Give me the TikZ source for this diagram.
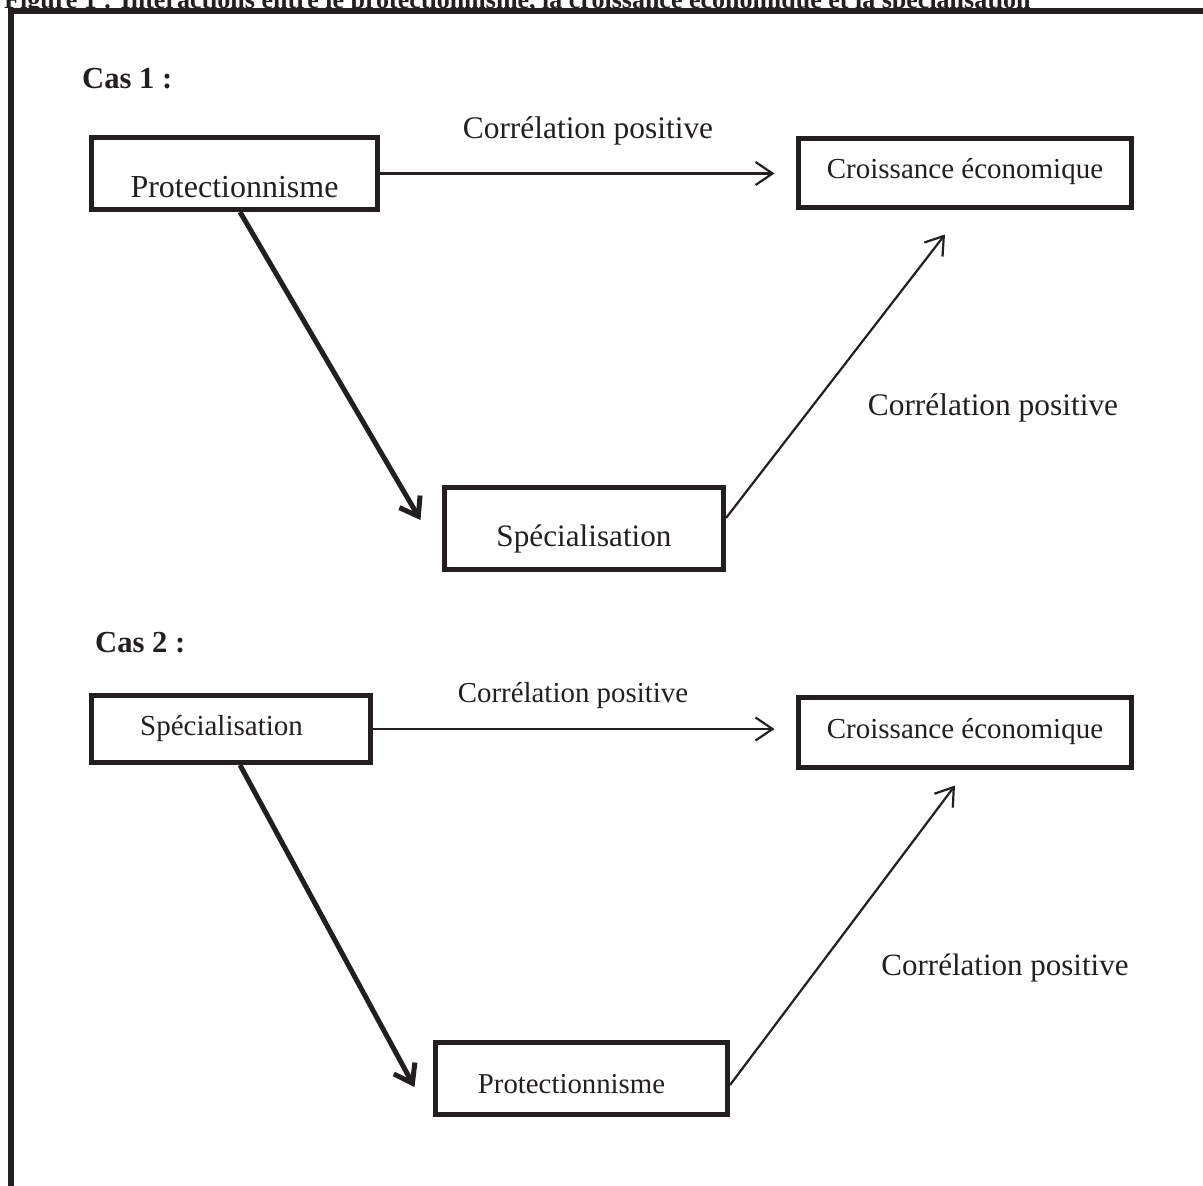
\documentclass[tikz,border=0pt]{standalone}
\usepackage{fontspec}
\setmainfont{Liberation Serif}
\usetikzlibrary{arrows.meta,calc}
\definecolor{ink}{HTML}{231F20}
\newcommand\myfs[1]{\fontsize{#1}{#1}\selectfont}
\begin{document}
\begin{tikzpicture}[x=1pt,y=-1pt,
  box/.style={draw=ink, line width=5pt, rectangle, inner sep=0pt, text=ink},
  lbl/.style={text=ink, inner sep=0pt, anchor=base},
  thinarrow/.style={draw=ink, line width=2.2pt, -{Straight Barb[length=17pt,width=23pt]}},
  bigarrow/.style={draw=ink, line width=5pt, -{Straight Barb[length=17pt,width=24pt]}},
]
\useasboundingbox (0,0) rectangle (1203,1186);
\clip (0,0) rectangle (1203,1186);

% title (cut off at the top, as in the reference)
\node[lbl, anchor=base west, font=\bfseries\myfs{26}] (title) at (4,8)
  {Figure 1 : Interactions entre le protectionnisme, la croissance économique et la spécialisation};
% frame
\draw[ink, line width=5.5pt] (11,1220) -- (11,11) -- (1230,11);

% ---- Cas 1
\node[lbl, anchor=base west, font=\bfseries\myfs{30.6}] (cas1) at (82,88) {Cas 1 :};
\node[box, minimum width=286pt, minimum height=72pt, text height=47pt, text depth=0pt, font=\myfs{32}]
  (A1) at (234.5,173.5) {Protectionnisme};
\node[box, minimum width=333pt, minimum height=69pt, text height=20pt, text depth=10pt, font=\myfs{29}]
  (B1) at (965,173) {Croissance économique};
\node[box, minimum width=279pt, minimum height=82pt, text height=35pt, text depth=0pt, font=\myfs{31.2}]
  (C1) at (584,528.5) {Spécialisation};
\node[lbl, font=\myfs{31.4}] (L1) at (588,138) {Corrélation positive};
\node[lbl, font=\myfs{31.4}] (L2) at (993,415) {Corrélation positive};

\coordinate (s1) at ($(A1.south)+(5.5,0)$);
\coordinate (e1) at ($(C1.west)+(-21.5,-8.5)$);
\coordinate (s2) at ($(C1.east)+(0,-10.5)$);
\coordinate (e2) at ($(B1.south)+(-20,24.5)$);
\draw[thinarrow, shorten >=21.5pt] (A1.east) -- (A1.east -| B1.west);
\draw[bigarrow] (s1) -- (e1);
\draw[thinarrow] (s2) -- (e2);

% ---- Cas 2
\node[lbl, anchor=base west, font=\bfseries\myfs{30.6}] (cas2) at (95,652) {Cas 2 :};
\node[box, minimum width=279pt, minimum height=67pt, text height=22pt, text depth=10pt, font=\myfs{29}]
  (A2) at (231,729) {\hspace*{-19pt}Spécialisation};
\node[box, minimum width=333pt, minimum height=70pt, text height=21pt, text depth=10pt, font=\myfs{29}]
  (B2) at (965,732.5) {Croissance économique};
\node[box, minimum width=292pt, minimum height=72pt, text height=29pt, text depth=0pt, font=\myfs{28.8}]
  (C2) at (581.5,1078.5) {\hspace*{-20pt}Protectionnisme};
\node[lbl, font=\myfs{28.9}] (L3) at (573,702) {Corrélation positive};
\node[lbl, font=\myfs{31}] (L4) at (1005,975) {Corrélation positive};

\coordinate (s3) at ($(A2.south)+(9,0)$);
\coordinate (e3) at ($(C2.west)+(-18.5,8.5)$);
\coordinate (s4) at ($(C2.east)+(0,6.5)$);
\coordinate (e4) at ($(B2.south)+(-10,15.5)$);
\draw[thinarrow, shorten >=21.5pt] (A2.east) -- (A2.east -| B2.west);
\draw[bigarrow] (s3) -- (e3);
\draw[thinarrow] (s4) -- (e4);
\end{tikzpicture}
\end{document}
